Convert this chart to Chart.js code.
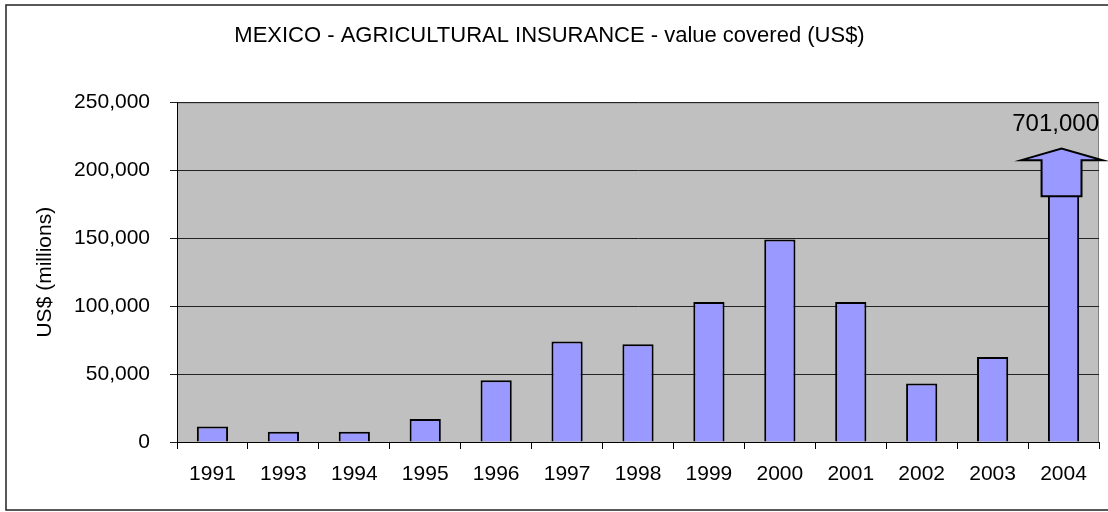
<!DOCTYPE html>
<html>
<head>
<meta charset="utf-8">
<script src="https://cdn.jsdelivr.net/npm/chart.js@4/dist/chart.umd.min.js"></script>
<style>
  html, body { margin: 0; padding: 0; background: #fff; }
  #wrap { width: 1108px; height: 512px; }
</style>
</head>
<body>
<div id="wrap"><canvas id="chart" width="1108" height="512"></canvas></div>
<script>
// years shown on the category axis
const years = ['1991', '1993', '1994', '1995', '1996', '1997', '1998', '1999', '2000', '2001', '2002', '2003', '2004'];
// value covered, US$ millions
const valueCovered = [11500, 7500, 7500, 17000, 45500, 74000, 72000, 103000, 149000, 103000, 43000, 62500, 701000];
// y axis range
const yMin = 0;
const yMax = 250000;
const yStep = 50000;

// the off-scale bar is cut and capped with an up arrow
const arrowShaftBottom = 181000;
const arrowHeadBase = 207500;
const arrowTip = 216000;

const FONT = 'Liberation Sans, Arial, Helvetica, sans-serif';
const fmt = v => Number(v).toLocaleString('en-US');

const lastIdx = valueCovered.length - 1;

const plotArea = {
  id: 'plotArea',
  beforeDraw(chart) {
    const { ctx, chartArea: a } = chart;
    ctx.save();
    ctx.fillStyle = '#c0c0c0';
    ctx.fillRect(a.left, a.top, a.right - a.left, a.bottom - a.top);
    ctx.strokeStyle = '#808080';
    ctx.lineWidth = 1;
    ctx.beginPath();
    ctx.moveTo(a.left, a.top + 0.5);
    ctx.lineTo(a.right - 0.5, a.top + 0.5);
    ctx.lineTo(a.right - 0.5, a.bottom);
    ctx.stroke();
    // outer frame
    ctx.strokeStyle = '#222';
    ctx.lineWidth = 1.5;
    ctx.strokeRect(6, 5, 1120, 505);
    ctx.restore();
  }
};

const brokenBar = {
  id: 'brokenBar',
  beforeDatasetsDraw(chart) {
    const { ctx } = chart;
    const bar = chart.getDatasetMeta(0).data[lastIdx];
    const { x, width } = bar.getProps(['x', 'width'], true);
    const cut = chart.scales.y.getPixelForValue(arrowShaftBottom);
    ctx.save();
    ctx.beginPath();
    ctx.rect(0, 0, chart.width, chart.height);
    ctx.rect(x - width / 2 - 3, 0, width + 6, cut);
    ctx.clip('evenodd');
  },
  afterDatasetsDraw(chart) {
    const { ctx } = chart;
    ctx.restore();
    const y = chart.scales.y;
    const bar = chart.getDatasetMeta(0).data[lastIdx];
    const { x, width } = bar.getProps(['x', 'width'], true);
    const cx = x - 2;
    const shaftHalf = width * 0.64;
    const headHalf = width * 1.29;
    const yBottom = y.getPixelForValue(arrowShaftBottom);
    const yBase = y.getPixelForValue(arrowHeadBase);
    const yTip = y.getPixelForValue(arrowTip);

    ctx.save();
    ctx.beginPath();
    ctx.moveTo(cx - shaftHalf, yBottom);
    ctx.lineTo(cx - shaftHalf, yBase);
    ctx.lineTo(cx - headHalf, yBase);
    ctx.lineTo(cx, yTip);
    ctx.lineTo(cx + headHalf, yBase);
    ctx.lineTo(cx + shaftHalf, yBase);
    ctx.lineTo(cx + shaftHalf, yBottom);
    ctx.closePath();
    ctx.fillStyle = '#9999ff';
    ctx.fill();
    ctx.strokeStyle = '#000';
    ctx.lineWidth = 2;
    ctx.lineJoin = 'miter';
    ctx.stroke();

    ctx.fillStyle = '#000';
    ctx.font = '24px ' + FONT;
    ctx.textAlign = 'right';
    ctx.textBaseline = 'alphabetic';
    ctx.fillText(fmt(valueCovered[lastIdx]), chart.chartArea.right, yTip - 18);
    ctx.restore();
  }
};

new Chart(document.getElementById('chart'), {
  type: 'bar',
  data: {
    labels: years,
    datasets: [{
      data: valueCovered,
      backgroundColor: '#9999ff',
      borderColor: '#000',
      borderWidth: 2,
      barPercentage: 0.44,
      categoryPercentage: 1
    }]
  },
  options: {
    responsive: false,
    devicePixelRatio: 1,
    animation: false,
    layout: { padding: { top: 0, right: 9, bottom: 0, left: 0 } },
    plugins: {
      legend: { display: false },
      tooltip: { enabled: false },
      title: {
        display: true,
        text: 'MEXICO - AGRICULTURAL INSURANCE - value covered (US$)',
        color: '#000',
        font: { family: FONT, size: 22, weight: 'normal' },
        padding: { top: 23, bottom: 53 }
      }
    },
    scales: {
      x: {
        afterFit(scale) { scale.height = 70; },
        grid: {
          display: true,
          drawOnChartArea: false,
          drawTicks: true,
          tickLength: 7,
          color: '#000'
        },
        border: { color: '#000', width: 1 },
        ticks: {
          color: '#000',
          padding: 13,
          maxRotation: 0,
          font: { family: FONT, size: 21 }
        }
      },
      y: {
        min: yMin,
        max: yMax,
        afterFit(scale) { scale.width = 177; },
        grid: { color: '#222', lineWidth: 1, tickLength: 7 },
        border: { color: '#000', width: 1 },
        ticks: {
          stepSize: yStep,
          color: '#000',
          padding: 20,
          font: { family: FONT, size: 21 },
          callback: v => fmt(v)
        },
        title: {
          display: true,
          text: 'US$ (millions)',
          color: '#000',
          font: { family: FONT, size: 21 },
          padding: { top: 33, bottom: 0 }
        }
      }
    }
  },
  plugins: [plotArea, brokenBar]
});
</script>
</body>
</html>
